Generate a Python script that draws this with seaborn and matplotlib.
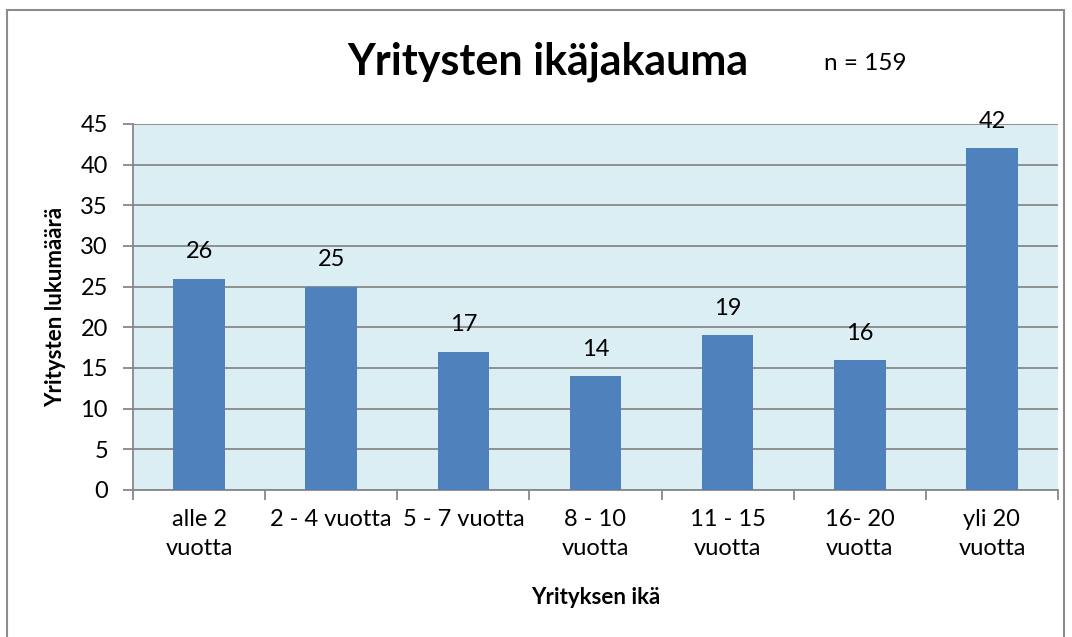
import matplotlib
matplotlib.use("Agg")
import matplotlib.pyplot as plt
import seaborn as sns
import pandas as pd
from matplotlib.patches import Rectangle

categories = ["alle 2\nvuotta", "2 - 4 vuotta", "5 - 7 vuotta", "8 - 10\nvuotta",
              "11 - 15\nvuotta", "16- 20\nvuotta", "yli 20\nvuotta"]
values = [26, 25, 17, 14, 19, 16, 42]
yticks = list(range(0, 50, 5))

sns.set_theme(style="white")
plt.rcParams['font.family'] = ['Lato', 'DejaVu Sans']
plt.rcParams['text.color'] = 'black'
plt.rcParams['axes.labelcolor'] = 'black'
plt.rcParams['xtick.color'] = 'black'
plt.rcParams['ytick.color'] = 'black'

fig = plt.figure(figsize=(10.72, 6.37), dpi=100)
fig.patches.append(Rectangle((7/1072, -0.01), (1064-7)/1072, 1 - 10/637 + 0.01,
                             transform=fig.transFigure, fill=False,
                             edgecolor="#8c8c8c", linewidth=1.5, zorder=0))
ax = fig.add_axes([133/1072, 1 - 490/637, (1058-133)/1072, (490-124)/637])
ax.set_facecolor("#DBEEF4")

df = pd.DataFrame({"cat": categories, "val": values})
sns.barplot(data=df, x="cat", y="val", color="#4F81BD", saturation=1,
            width=0.39, ax=ax, zorder=3, linewidth=0)

ax.set_ylim(0, 45)
ax.set_xlim(-0.5, len(categories) - 0.5)
ax.set_yticks(yticks)
ax.set_yticklabels([str(t) for t in yticks], fontsize=17)
ax.yaxis.grid(True, color="#888888", linewidth=1.3, zorder=1)
ax.set_axisbelow(True)

ax.set_xticks([i - 0.5 for i in range(len(categories) + 1)], minor=False)
ax.set_xticklabels([])
ax.set_xticks(range(len(categories)), minor=True)
ax.set_xticklabels(categories, minor=True, fontsize=17, linespacing=1.45)
ax.tick_params(axis="x", which="major", bottom=True, direction="out", length=7,
               color="#888888", width=1.3)
ax.tick_params(axis="x", which="minor", bottom=True, length=0, pad=14)
ax.tick_params(axis="y", left=True, direction="out", length=7, color="#888888",
               width=1.3, pad=11)

for s in ["top", "right"]:
    ax.spines[s].set_visible(False)
for s in ["left", "bottom"]:
    ax.spines[s].set_color("#888888")
    ax.spines[s].set_linewidth(1.3)

for i, v in enumerate(values):
    ax.text(i, v + 2.0, str(v), ha="center", va="bottom", fontsize=17, color="black")

ax.set_xlabel("Yrityksen ikä", fontsize=16, fontweight="bold", labelpad=20)
ax.set_ylabel("Yritysten lukumäärä", fontsize=16, fontweight="bold", labelpad=10)

fig.text(548/1072, 1 - 62/637, "Yritysten ikäjakauma", ha="center", va="center",
         fontsize=31, fontweight="bold")
fig.text(865/1072, 1 - 63/637, "n = 159", ha="center", va="center", fontsize=17.5)

fig.savefig("out.png", dpi=100)
